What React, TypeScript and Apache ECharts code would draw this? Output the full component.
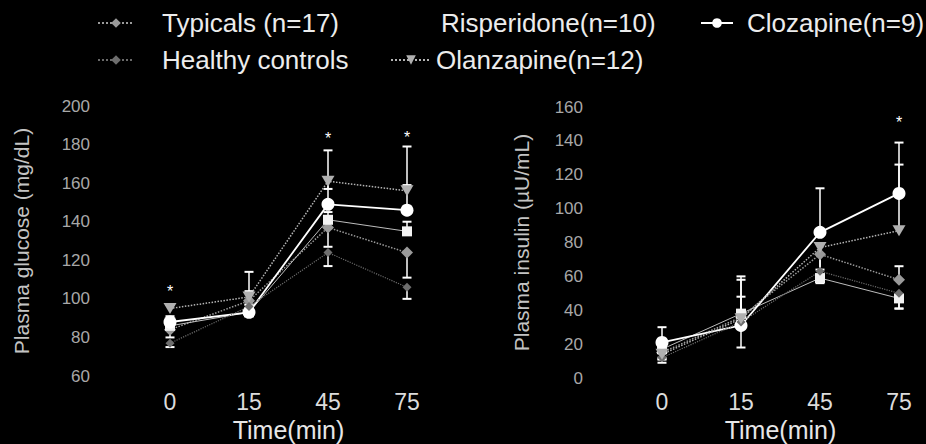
import React, { useEffect, useRef } from "react";
import * as echarts from "echarts";

const times = ["0", "15", "45", "75"];
const seriesNames = ["Typicals (n=17)", "Risperidone(n=10)", "Clozapine(n=9)", "Healthy controls", "Olanzapine(n=12)"];

// Plasma glucose (mg/dL)
const glucoseTypicals = [84, 99, 137, 124];
const glucoseRisperidone = [86, 93, 141, 135];
const glucoseClozapine = [88, 93, 149, 146];
const glucoseHealthy = [77, 96, 124, 106];
const glucoseOlanzapine = [95, 101, 161, 156];
// one-sided error bars (positive = upward, negative = downward)
const glucoseErrTypicals = [-4, 5, -10, -13];
const glucoseErrRisperidone = [3, 4, 4, 5];
const glucoseErrClozapine = [3, 4, 28, 33];
const glucoseErrHealthy = [-2, 3, -7, -6];
const glucoseErrOlanzapine = [2, 13, -4, 3];
const glucoseStars = [[0, 106], [2, 185], [3, 186]];

// Plasma insulin (µU/mL)
const insulinTypicals = [15, 36, 73, 58];
const insulinRisperidone = [17, 38, 59, 47];
const insulinClozapine = [21, 31, 86, 109];
const insulinHealthy = [12, 33, 63, 50];
const insulinOlanzapine = [14, 35, 77, 87];
const insulinErrTypicals = [-3, 12, -9, 8];
const insulinErrRisperidone = [-6, 20, -3, -6];
const insulinErrClozapine = [9, 29, 26, 30];
const insulinErrHealthy = [-3, -15, -6, -9];
const insulinErrOlanzapine = [-3, 4, -20, 39];
const insulinStars = [[3, 153]];

const glucoseTicks = { min: 60, max: 200, interval: 20 };
const insulinTicks = { min: 0, max: 160, interval: 20 };

const SANS = "'Liberation Sans', Arial, sans-serif";

const downTri = "path://M0,0 L10,0 L5,9 Z";

const styles: Record<string, any> = {
  "Typicals (n=17)": { symbol: "diamond", symbolSize: 12, color: "#9a9a9a", line: { color: "#9a9a9a", width: 1.5, type: "dotted" } },
  "Risperidone(n=10)": { symbol: "rect", symbolSize: 10, color: "#f2f2f2", line: { color: "#bdbdbd", width: 1, type: "solid" } },
  "Clozapine(n=9)": { symbol: "circle", symbolSize: 13, color: "#ffffff", line: { color: "#ffffff", width: 1.8, type: "solid" } },
  "Healthy controls": { symbol: "diamond", symbolSize: 9, color: "#6e6e6e", line: { color: "#6a6a6a", width: 1.2, type: "dotted" } },
  "Olanzapine(n=12)": { symbol: downTri, symbolSize: [13, 11], color: "#b0b0b0", line: { color: "#b5b5b5", width: 1.5, type: "dotted" } },
};

function lineSeries(name: string, values: number[], idx: number) {
  const s = styles[name];
  return {
    type: "line",
    name,
    xAxisIndex: idx,
    yAxisIndex: idx,
    data: values,
    symbol: s.symbol,
    symbolSize: s.symbolSize,
    showSymbol: true,
    itemStyle: { color: s.color },
    lineStyle: { color: s.line.color, width: s.line.width, type: s.line.type },
    z: 3,
  };
}

function errSeries(values: number[], errs: number[], idx: number) {
  return {
    type: "custom",
    xAxisIndex: idx,
    yAxisIndex: idx,
    data: values.map((v, i) => [i, v, errs[i]]),
    z: 2,
    renderItem: (params: any, api: any) => {
      const x = api.value(0);
      const v = api.value(1);
      const e = api.value(2);
      const p0 = api.coord([x, v]);
      const p1 = api.coord([x, v + e]);
      return {
        type: "group",
        children: [
          { type: "line", shape: { x1: p0[0], y1: p0[1], x2: p1[0], y2: p1[1] }, style: { stroke: "#ffffff", lineWidth: 1.5 } },
          { type: "line", shape: { x1: p1[0] - 4.5, y1: p1[1], x2: p1[0] + 4.5, y2: p1[1] }, style: { stroke: "#ffffff", lineWidth: 2 } },
        ],
      };
    },
  };
}

function starSeries(points: number[][], idx: number) {
  return {
    type: "custom",
    xAxisIndex: idx,
    yAxisIndex: idx,
    data: points,
    z: 4,
    renderItem: (params: any, api: any) => {
      const p = api.coord([api.value(0), api.value(1)]);
      return {
        type: "text",
        x: p[0],
        y: p[1] + 4,
        style: { text: "*", fill: "#ffffff", fontSize: 16, fontFamily: SANS, align: "center", verticalAlign: "middle" },
      };
    },
  };
}

function legendItem(name: string, left: number, top: number, itemWidth: number, padLeft: number, hidden = false) {
  const item: any = { name };
  if (hidden) {
    item.itemStyle = { opacity: 0 };
    item.lineStyle = { opacity: 0 };
  }
  return {
    data: [item],
    left,
    top,
    padding: 0,
    itemWidth,
    itemHeight: 12,
    selectedMode: false,
    textStyle: { color: "#ececec", fontSize: 26, fontFamily: SANS, padding: [0, 0, 0, padLeft] },
  };
}

export default function App() {
  const ref = useRef<HTMLDivElement>(null);
  useEffect(() => {
    if (!ref.current) return;
    const chart = echarts.init(ref.current, undefined, { renderer: "svg" });
    const xAxisBase = {
      type: "category",
      data: times,
      boundaryGap: false,
      axisLine: { show: false },
      axisTick: { show: false },
      splitLine: { show: false },
      axisLabel: { color: "#dcdcdc", fontSize: 23, fontFamily: SANS, margin: 14 },
      name: "Time(min)",
      nameLocation: "middle",
      nameGap: 40,
      nameTextStyle: { color: "#e6e6e6", fontSize: 25, fontFamily: SANS },
    };
    const yAxisBase = {
      type: "value",
      axisLine: { show: false },
      axisTick: { show: false },
      splitLine: { show: false },
      nameLocation: "middle",
      nameRotate: 90,
    };
    chart.setOption({
      animation: false,
      backgroundColor: "#000000",
      grid: [
        { left: 170, right: 519, top: 106, bottom: 68, outerBoundsMode: "none", containLabel: false },
        { left: 662, right: 27, top: 107, bottom: 66, outerBoundsMode: "none", containLabel: false },
      ],
      legend: [
        legendItem(seriesNames[0], 97, 10, 36, 23),
        legendItem(seriesNames[1], 410, 10, 25, 0, true),
        legendItem(seriesNames[2], 700, 10, 32, 9),
        legendItem(seriesNames[3], 97, 47, 36, 23),
        legendItem(seriesNames[4], 390, 47, 40, 0),
      ],
      xAxis: [
        { ...xAxisBase, gridIndex: 0 },
        { ...xAxisBase, gridIndex: 1, nameGap: 38, axisLabel: { ...xAxisBase.axisLabel, margin: 12 } },
      ],
      yAxis: [
        {
          ...yAxisBase,
          gridIndex: 0,
          ...glucoseTicks,
          axisLabel: { color: "#a8a8a8", fontSize: 17, fontFamily: SANS, margin: 80 },
          name: "Plasma glucose (mg/dL)",
          nameGap: 138,
          nameTextStyle: { color: "#c4c4c4", fontSize: 21, fontFamily: SANS },
        },
        {
          ...yAxisBase,
          gridIndex: 1,
          ...insulinTicks,
          axisLabel: { color: "#a8a8a8", fontSize: 17, fontFamily: SANS, margin: 79 },
          name: "Plasma insulin (µU/mL)",
          nameGap: 130,
          nameTextStyle: { color: "#c4c4c4", fontSize: 21, fontFamily: SANS },
        },
      ],
      series: [
        errSeries(glucoseTypicals, glucoseErrTypicals, 0),
        errSeries(glucoseRisperidone, glucoseErrRisperidone, 0),
        errSeries(glucoseClozapine, glucoseErrClozapine, 0),
        errSeries(glucoseHealthy, glucoseErrHealthy, 0),
        errSeries(glucoseOlanzapine, glucoseErrOlanzapine, 0),
        lineSeries(seriesNames[0], glucoseTypicals, 0),
        lineSeries(seriesNames[1], glucoseRisperidone, 0),
        lineSeries(seriesNames[2], glucoseClozapine, 0),
        lineSeries(seriesNames[3], glucoseHealthy, 0),
        lineSeries(seriesNames[4], glucoseOlanzapine, 0),
        starSeries(glucoseStars, 0),
        errSeries(insulinTypicals, insulinErrTypicals, 1),
        errSeries(insulinRisperidone, insulinErrRisperidone, 1),
        errSeries(insulinClozapine, insulinErrClozapine, 1),
        errSeries(insulinHealthy, insulinErrHealthy, 1),
        errSeries(insulinOlanzapine, insulinErrOlanzapine, 1),
        lineSeries(seriesNames[0], insulinTypicals, 1),
        lineSeries(seriesNames[1], insulinRisperidone, 1),
        lineSeries(seriesNames[2], insulinClozapine, 1),
        lineSeries(seriesNames[3], insulinHealthy, 1),
        lineSeries(seriesNames[4], insulinOlanzapine, 1),
        starSeries(insulinStars, 1),
      ],
    });
    return () => chart.dispose();
  }, []);
  return (
    <div
      ref={ref}
      style={{ position: "fixed", left: 0, top: 0, width: 926, height: 444, background: "#000" }}
    />
  );
}
